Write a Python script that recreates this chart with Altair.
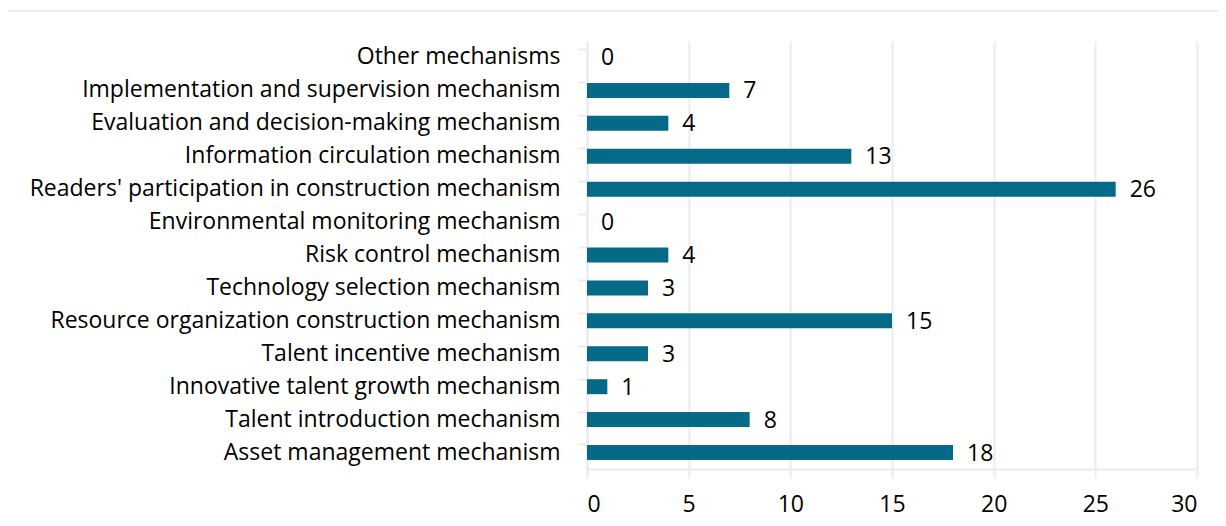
import altair as alt
import pandas as pd

categories = [
    "Other mechanisms",
    "Implementation and supervision mechanism",
    "Evaluation and decision-making mechanism",
    "Information circulation mechanism",
    "Readers' participation in construction mechanism",
    "Environmental monitoring mechanism",
    "Risk control mechanism",
    "Technology selection mechanism",
    "Resource organization construction mechanism",
    "Talent incentive mechanism",
    "Innovative talent growth mechanism",
    "Talent introduction mechanism",
    "Asset management mechanism",
]
values = [0, 7, 4, 13, 26, 0, 4, 3, 15, 3, 1, 8, 18]
x_ticks = [0, 5, 10, 15, 20, 25, 30]

df = pd.DataFrame({"category": categories, "value": values})

FONT = "Open Sans"
FS = 23
BAR = "#046A87"
GRID = "#ebebeb"

y_enc = alt.Y(
    "category:N",
    sort=categories,
    title=None,
    scale=alt.Scale(paddingInner=0.54, paddingOuter=0.27),
    axis=alt.Axis(
        bandPosition=0,
        tickSize=9,
        tickWidth=2,
        tickColor=GRID,
        domainColor=GRID,
        domainWidth=2,
        labelPadding=18,
        labelFontSize=FS,
        labelFont=FONT,
        labelColor="#000000",
        grid=False,
        labelLimit=800,
    ),
)
x_enc = alt.X(
    "value:Q",
    title=None,
    scale=alt.Scale(domain=[0, 30], nice=False),
    axis=alt.Axis(
        values=x_ticks,
        grid=True,
        gridColor=GRID,
        gridWidth=2,
        tickColor=GRID,
        tickWidth=2,
        tickSize=9,
        domainColor=GRID,
        domainWidth=2,
        labelPadding=15,
        labelFontSize=FS,
        labelFont=FONT,
        labelColor="#000000",
    ),
)

bars = alt.Chart(df).mark_bar(color=BAR, size=15).encode(y=y_enc, x=x_enc)
labels = alt.Chart(df).mark_text(
    align="left", baseline="middle", dx=14, dy=1, fontSize=FS, font=FONT, color="#000000"
).encode(y=alt.Y("category:N", sort=categories), x="value:Q", text="value:Q")

frame = alt.Chart(df.head(1)).mark_rect(
    fill=None, stroke="#d9d9d9", strokeWidth=1
).encode(
    x=alt.value(-584), x2=alt.value(660), y=alt.value(-30), y2=alt.value(520)
)

chart = (
    alt.layer(frame, bars, labels)
    .properties(
        width=610,
        height=428,
        autosize=alt.AutoSizeParams(type="none"),
        padding={"left": 579, "top": 33, "right": 21, "bottom": 49},
    )
    .configure_view(stroke=None)
)

chart.save("out.html", embed_options={"renderer": "svg", "actions": False})
